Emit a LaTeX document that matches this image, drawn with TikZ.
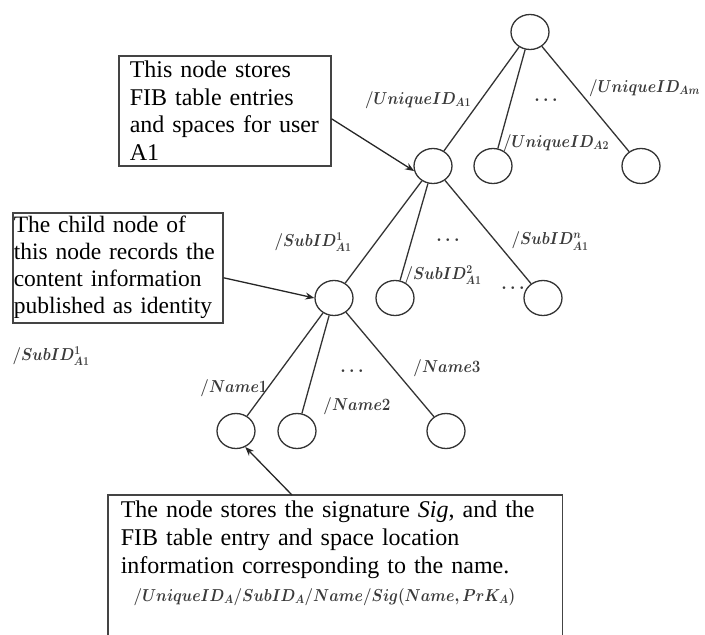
\documentclass[tikz,border=0pt]{standalone}
\usepackage{fontspec}
\setmainfont{Liberation Serif}
\usetikzlibrary{shapes.geometric,arrows.meta}
\definecolor{linec}{HTML}{333333}
\definecolor{boxc}{HTML}{444444}
\definecolor{labc}{HTML}{3A3A3A}
\newcommand{\lab}[1]{\scalebox{0.88}[1]{\boldmath$#1$}}
\begin{document}
\begin{tikzpicture}[x=1pt,y=-1pt,
 tnode/.style={ellipse,draw=linec,line width=1.3pt,minimum width=38pt,minimum height=35pt,inner sep=0pt},
 edge/.style={draw=linec,line width=1.3pt},
 arr/.style={draw=black!85,line width=1.3pt,-{Stealth[length=9pt,width=7pt]}},
 lbl/.style={text=labc,font=\fontsize{17.28}{20}\selectfont\boldmath,inner sep=0pt},
 box/.style={draw=boxc,line width=1.5pt,align=left,font=\fontsize{24}{27.5}\selectfont,inner ysep=3pt,anchor=north west}
]
\useasboundingbox (0,0) rectangle (705,635);
\coordinate (bot) at (0,640);
% tree nodes
\node[tnode] (r) at (530,32) {};
\node[tnode] (a1) at (433,166) {};
\node[tnode] (a2) at (493,166) {};
\node[tnode] (am) at (641,166) {};
\node[tnode] (s1) at (334,298) {};
\node[tnode] (s2) at (395,298) {};
\node[tnode] (sn) at (543,298) {};
\node[tnode] (n1) at (236,431) {};
\node[tnode] (n2) at (297,431) {};
\node[tnode] (n3) at (446,431) {};
% edges
\path[edge] (r) -- (a1);
\path[edge] (r) -- (a2);
\path[edge] (r) -- (am);
\path[edge] (a1) -- (s1);
\path[edge] (a1) -- (s2);
\path[edge] (a1) -- (sn);
\path[edge] (s1) -- (n1);
\path[edge] (s1) -- (n2);
\path[edge] (s1) -- (n3);
% labels
\node[lbl] (lA1) at (418,100) {\lab{/UniqueID_{A1}}};
\node[lbl] (lA2) at (556,143) {\lab{/UniqueID_{A2}}};
\node[lbl,anchor=west] (lAm) at (589,88) {\lab{/UniqueID_{Am}}};
\node[lbl] (d1) at (546,100) {$\ldots$};
\node[lbl] (lS1) at (313,242) {\lab{/SubID^{1}_{A1}}};
\node[lbl] (lS2) at (443,275) {\lab{/SubID^{2}_{A1}}};
\node[lbl] (lSn) at (550,241) {\lab{/SubID^{n}_{A1}}};
\node[lbl] (d2) at (448,240) {$\ldots$};
\node[lbl] (d3) at (513,288) {$\ldots$};
\node[lbl] (lN1) at (234,388) {\lab{/Name1}};
\node[lbl] (lN2) at (357,406) {\lab{/Name2}};
\node[lbl] (lN3) at (447,368) {\lab{/Name3}};
\node[lbl] (d4) at (352,371) {$\ldots$};
% boxes
\node[box,inner xsep=11pt,text width=190pt,minimum height=110pt] (b1) at (118,55)
  {This node stores\\FIB table entries\\and spaces for user\\A1};
\node[box,inner xsep=1pt,text width=208pt,minimum height=110pt,font=\fontsize{23.5}{27}\selectfont] (b2) at (12,212)
  {The child node of\\this node records the\\content information\\published as identity};
\node[lbl] (lS) at (51,356) {\lab{/SubID^{1}_{A1}}};
\node[box,draw=none,inner xsep=12pt,inner ysep=5pt,text width=429pt,font=\fontsize{24}{28}\selectfont] (b3) at (108,495)
  {The node stores the signature \textit{Sig}, and the\\FIB table entry and space location\\information corresponding to the name.\\\hspace*{13pt}{\fontsize{17.28}{20}\selectfont\color{labc}\lab{/UniqueID_A/SubID_A/Name/Sig(Name,PrK_A)}}};
\draw[draw=boxc,line width=1.5pt] (b3.north west |- bot) -- (b3.north west) -- (b3.north east) -- (b3.north east |- bot);
% arrows
\draw[arr] ([yshift=-8pt]b1.east) -- (a1.195);
\draw[arr] ([yshift=-10pt]b2.east) -- (s1.west);
\draw[arr] ([xshift=184pt]b3.north west) -- (n1.300);
\end{tikzpicture}
\end{document}
